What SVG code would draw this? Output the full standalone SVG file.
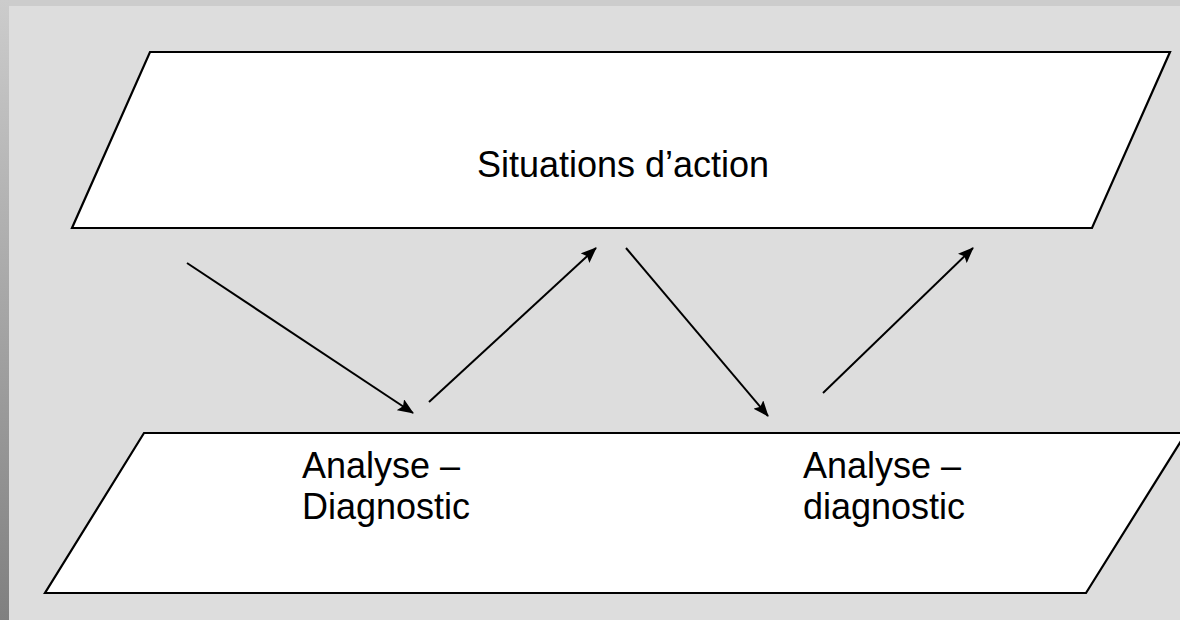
<svg xmlns="http://www.w3.org/2000/svg" width="1180" height="620" viewBox="0 0 1180 620">
<defs>
<linearGradient id="edge" x1="0" y1="0" x2="0" y2="1">
<stop offset="0" stop-color="#cccccc"/>
<stop offset="1" stop-color="#808080"/>
</linearGradient>
<marker id="ah" viewBox="0 0 16 13" refX="15" refY="6.5" markerWidth="16" markerHeight="13" markerUnits="userSpaceOnUse" orient="auto">
<path d="M0,0 L16,6.5 L0,13 L3,6.5 Z" fill="#000"/>
</marker>
<style>
.shape{fill:#ffffff;stroke:#000000;stroke-width:2.2}
.lbl{font-family:"Liberation Sans",Arial,sans-serif;font-size:36px;fill:#000}
.conn line{stroke:#000;stroke-width:2;marker-end:url(#ah)}
</style>
</defs>
<rect x="0" y="0" width="1180" height="620" fill="#dddddd"/>
<rect x="0" y="0" width="1180" height="6" fill="#cccccc"/>
<rect x="0" y="0" width="9" height="620" fill="url(#edge)"/>
<g id="situations">
<polygon class="shape" points="150,52 1170,52 1092,228 72,228"/>
<text class="lbl" x="623" y="177" text-anchor="middle">Situations d’action</text>
</g>
<g id="analyse1">
<polygon class="shape" points="144,433 1186,433 1086,593 45,593"/>
<text class="lbl" x="302" y="478">Analyse –</text>
<text class="lbl" x="302" y="519">Diagnostic</text>
</g>
<g id="analyse2">
<text class="lbl" x="803" y="478">Analyse –</text>
<text class="lbl" x="803" y="519">diagnostic</text>
</g>
<g class="conn" id="connectors">
<line x1="187" y1="263" x2="413" y2="413"/>
<line x1="429" y1="402" x2="596" y2="248"/>
<line x1="626" y1="248" x2="768" y2="416"/>
<line x1="823" y1="393" x2="973" y2="248"/>
</g>
</svg>
